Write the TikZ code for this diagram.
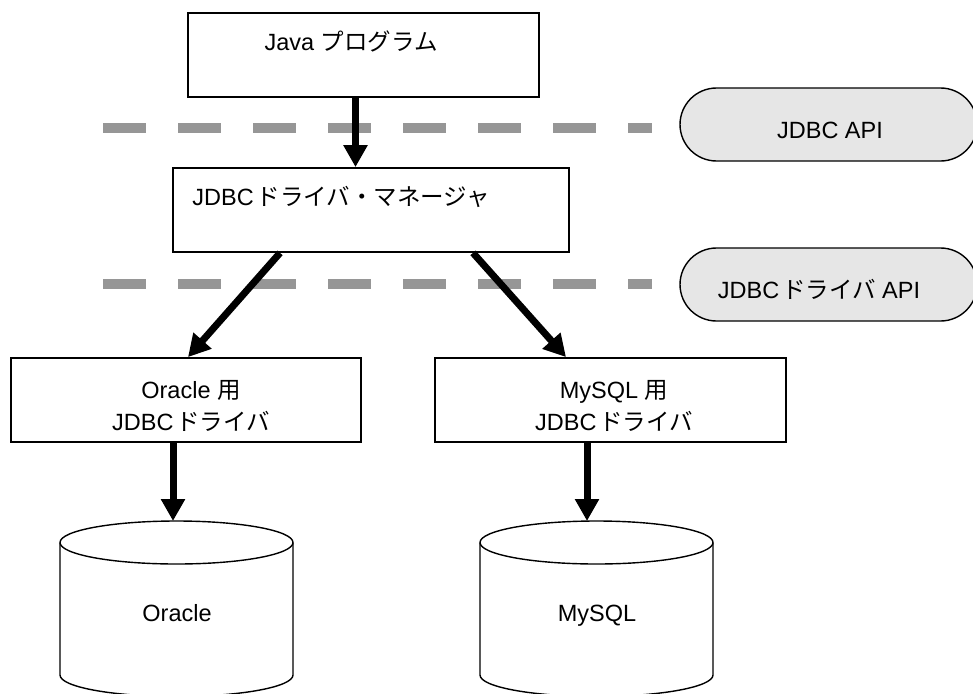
\documentclass[tikz,border=0pt]{standalone}
\usepackage{fontspec}
\setmainfont{Liberation Sans}
\newfontfamily\jp{Noto Sans CJK JP}
\usetikzlibrary{arrows.meta,shapes.misc}
\newcommand{\jt}[1]{{\jp #1}}
\newcommand{\gp}{\hspace{0.12em}}
\definecolor{sepgray}{RGB}{150,150,150}
\definecolor{apifill}{RGB}{230,230,230}
\begin{document}
\begin{tikzpicture}[x=1pt,y=-1pt,
  boxnode/.style={draw,line width=1.8pt,rectangle,minimum height=84pt,inner sep=0pt},
  txt/.style={font=\fontsize{23.5}{32}\selectfont,inner sep=0pt,text height=17pt,text depth=0pt},
  txttwo/.style={font=\fontsize{23.5}{32}\selectfont,inner sep=0pt,align=center},
  apinode/.style={draw,line width=1.4pt,fill=apifill,rounded rectangle,minimum width=297pt,minimum height=73pt,inner sep=0pt},
  sepline/.style={draw=sepgray,line width=10pt,dash pattern=on 43pt off 32pt},
  conn/.style={draw,line width=7pt,-{Triangle[length=22pt,width=23pt]}},
  cyl/.style={draw,line width=1.4pt}
]
\useasboundingbox (0,0) rectangle (973,693);

% separator lines
\coordinate (s1a) at (103,128);
\coordinate (s1b) at (652,128);
\coordinate (s2a) at (103,284);
\coordinate (s2b) at (652,284);
\path[sepline] (s1a) -- (s1b);
\path[sepline] (s2a) -- (s2b);

% API labels
\node[apinode] (api1) at (828.5,124.5) {};
\node[txt] (api1t) at (830,130) {JDBC API};
\node[apinode] (api2) at (828.5,284.5) {};
\node[txt] (api2t) at (819,290) {JDBC\gp\jt{ドライバ} API};

% boxes
\node[boxnode,minimum width=351pt] (java) at (363.5,55) {};
\node[txt] (javat) at (351,42) {Java \jt{プログラム}};
\node[boxnode,minimum width=396pt] (mgr) at (371,210) {};
\node[txt] (mgrt) at (341,197) {JDBC\gp\jt{ドライバ・マネージャ}};
\node[boxnode,minimum width=350pt] (ora) at (186,400) {};
\node[txttwo] (orat) at (191,406) {Oracle \jt{用}\\JDBC\gp\jt{ドライバ}};
\node[boxnode,minimum width=351pt] (my) at (610.5,400) {};
\node[txttwo] (myt) at (614,406) {MySQL \jt{用}\\JDBC\gp\jt{ドライバ}};

% cylinders
\draw[cyl] (176.5,542.5) ellipse [x radius=116.5, y radius=21.5];
\draw[cyl] (60,542.5) -- (60,675) arc[start angle=180, end angle=0, x radius=116.5, y radius=21.5] -- (293,542.5);
\node[txt] (oradb) at (177,613) {Oracle};
\coordinate (oratop) at (173,521);

\draw[cyl] (596.5,542.5) ellipse [x radius=116.5, y radius=21.5];
\draw[cyl] (480,542.5) -- (480,675) arc[start angle=180, end angle=0, x radius=116.5, y radius=21.5] -- (713,542.5);
\node[txt] (mydb) at (597,613) {MySQL};
\coordinate (mytop) at (587,521);

% connectors
\draw[conn] ([xshift=-8pt]java.south) -- ([xshift=-8pt]java.south |- mgr.north);
\draw[conn] ([xshift=-91pt]mgr.south) -- ([xshift=2pt]ora.north);
\draw[conn] ([xshift=102pt]mgr.south) -- ([xshift=-44.5pt]my.north);
\draw[conn] (ora.south -| oratop) -- (oratop);
\draw[conn] (my.south -| mytop) -- (mytop);
\end{tikzpicture}
\end{document}
